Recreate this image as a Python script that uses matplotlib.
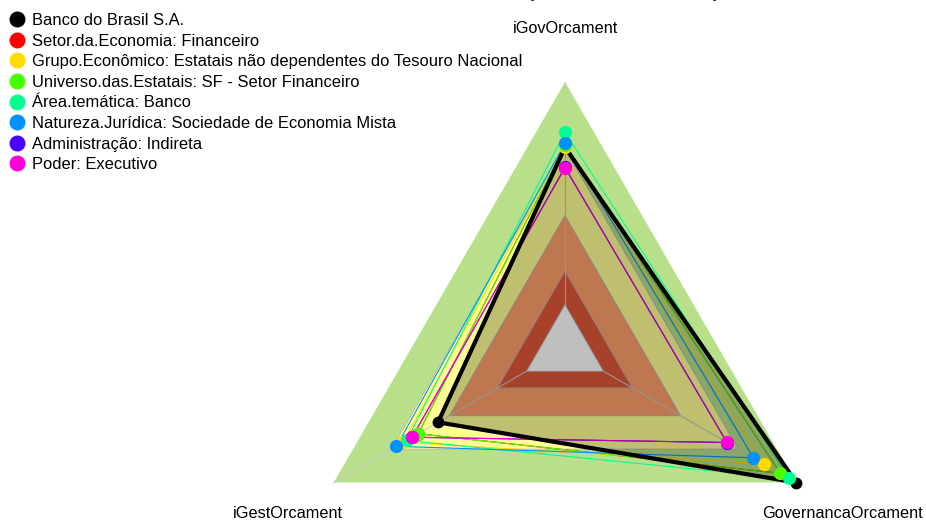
import numpy as np
import matplotlib
matplotlib.use("Agg")
import matplotlib.pyplot as plt
from matplotlib.lines import Line2D

plt.rcParams['font.family'] = ['Liberation Sans', 'DejaVu Sans']

# eixos do radar (ordem anti-horaria a partir do topo)
eixos = ["iGovOrcament", "iGestOrcament", "GovernancaOrcament"]

series = [
    "Banco do Brasil S.A.",
    "Setor.da.Economia: Financeiro",
    "Grupo.Econômico: Estatais não dependentes do Tesouro Nacional",
    "Universo.das.Estatais: SF - Setor Financeiro",
    "Área.temática: Banco",
    "Natureza.Jurídica: Sociedade de Economia Mista",
    "Administração: Indireta",
    "Poder: Executivo",
]
cores = ["#000000", "#FF0000", "#FFDB00", "#49FF00", "#00FF92",
         "#0092FF", "#4900FF", "#FF00DB"]

# valores (escala 0-1)
banco = [0.707, 0.459, 1.000]
setor = [0.715, 0.562, 0.917]
grupo = [0.710, 0.640, 0.833]
universo = [0.715, 0.562, 0.917]
area = [0.774, 0.622, 0.964]
natureza = [0.724, 0.675, 0.778]
administracao = [0.616, 0.593, 0.641]
poder = [0.615, 0.593, 0.640]
valores = [banco, setor, grupo, universo, area, natureza, administracao, poder]

# faixas de fundo (limites em valor) e cores
faixas = [0.0, 0.15, 0.40, 0.70, 1.0]
cores_faixas = ["#E05739", "#FFA06B", "#FFFF96", "#B8E08A"]

seg_offset = 1 / 6  # centro nao zero, como no fmsb


def raio(v):
    return seg_offset + (1 - seg_offset) * np.asarray(v)


ang = np.deg2rad(90 + 120 * np.arange(len(eixos)))


def xy(v):
    r = raio(v)
    return r * np.cos(ang), r * np.sin(ang)


def fechar(x, y):
    return np.append(x, x[0]), np.append(y, y[0])


fig = plt.figure(figsize=(9.26, 5.21), dpi=100)
ax = fig.add_axes([0, 0, 1, 1])
cx, cy, R = 565, 349, 267
ax.set_xlim(-cx / R, (926 - cx) / R)
ax.set_ylim(-(521 - cy) / R, cy / R)
ax.set_aspect('equal')
ax.axis('off')

# faixas
for i in range(len(cores_faixas) - 1, -1, -1):
    x, y = xy([faixas[i + 1]] * 3)
    ax.fill(x, y, color=cores_faixas[i], lw=0, zorder=1)
x, y = xy([faixas[0]] * 3)
ax.fill(x, y, color="white", lw=0, zorder=1)

# grade
for f in faixas[:-1]:
    ax.plot(*fechar(*xy([f] * 3)), color="#B4B4B4", lw=0.6, zorder=2)
for a in ang:
    ax.plot([seg_offset * np.cos(a), np.cos(a)], [seg_offset * np.sin(a), np.sin(a)],
            color="#C8C8C8", lw=0.8, zorder=2)

# series
for i in range(1, len(series)):
    ax.plot(*fechar(*xy(valores[i])), color=cores[i], lw=0.8, zorder=3)
x, y = xy(banco)
ax.fill(x, y, color="black", alpha=0.25, lw=0, zorder=3)
ax.plot(*fechar(x, y), color="black", lw=3, zorder=4, solid_joinstyle='miter')
ax.plot(x, y, 'o', color="black", ms=7.5, zorder=5)
for i in range(1, len(series)):
    x, y = xy(valores[i])
    ax.plot(x, y, 'o', color=cores[i], ms=9.5, mec='none', zorder=6)

# rotulos dos eixos
for nome, a in zip(eixos, ang):
    dy = 0 if np.sin(a) > 0 else -0.016
    ax.text(1.2 * np.cos(a), 1.2 * np.sin(a) + dy, nome, ha='center', va='center',
            fontsize=11.7, zorder=7)

# titulo (cortado no topo)
fig.text(612 / 926, 1 + 2 / 521, "Posição relativa na Governança",
         ha='center', va='baseline', fontsize=11, fontweight='bold')

# legenda
handles = [Line2D([], [], ls='none', marker='o', ms=11.5, color=c, mec='none')
           for c in cores]
fig.legend(handles, series, loc='upper left', bbox_to_anchor=(9 / 926, 1 - 13 / 521),
           frameon=False, fontsize=11.85, handlelength=1.0, handletextpad=0.4,
           labelspacing=0.34, borderpad=0, borderaxespad=0)

fig.savefig("out.png", dpi=100)
